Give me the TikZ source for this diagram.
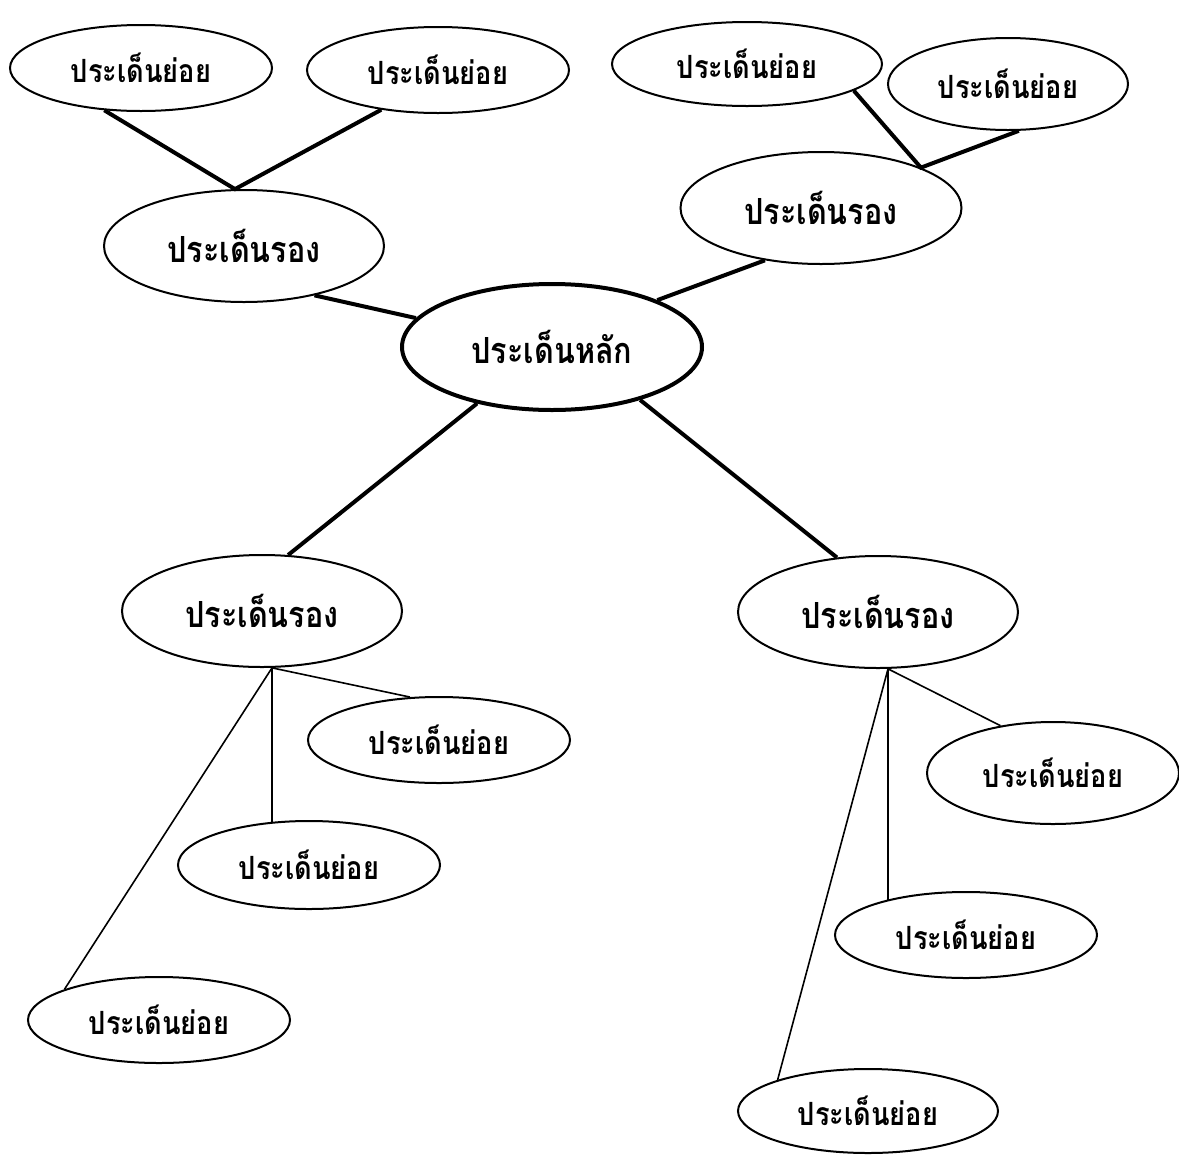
\documentclass[tikz,border=0pt]{standalone}
\usepackage{fontspec}
\newfontfamily\thaifont[Script=Thai,FakeStretch=0.85]{Loma}
\usetikzlibrary{shapes.geometric}

\tikzset{
  topic/.style 2 args={ellipse, draw, line width=1.5pt, inner sep=0pt,
    minimum width=#1*0.75pt, minimum height=#2*0.75pt},
  subtxt/.style={font=\thaifont\bfseries\fontsize{24}{28}\selectfont},
  sectxt/.style={font=\thaifont\bfseries\fontsize{27}{31}\selectfont},
  thickline/.style={line width=3pt},
  thinline/.style={line width=1.2pt}
}

\begin{document}
\begin{tikzpicture}[x=0.75pt,y=0.75pt,yscale=-1,xscale=1]
\useasboundingbox (0,0) rectangle (1179,1154);

%Shape: Ellipse (main)
\node (main) at (552,347) [topic={300}{126}, line width=3pt, sectxt] {ประเด็นหลัก};

%Shape: Ellipse (upper left)
\node (secA) at (244,246) [topic={280}{112}, sectxt] {ประเด็นรอง};
\node (subA) at (141,68) [topic={262}{86}, subtxt] {ประเด็นย่อย};
\node (subB) at (438,70) [topic={262}{86}, subtxt] {ประเด็นย่อย};

%Shape: Ellipse (upper right)
\node (secB) at (821,208) [topic={281}{112}, sectxt] {ประเด็นรอง};
\node (subC) at (747,64) [topic={270}{84}, subtxt] {ประเด็นย่อย};
\node (subD) at (1008,84) [topic={240}{92}, subtxt] {ประเด็นย่อย};

%Shape: Ellipse (lower left)
\node (secC) at (262,611) [topic={280}{112}, sectxt] {ประเด็นรอง};
\node (subE) at (439,740) [topic={262}{86}, subtxt] {ประเด็นย่อย};
\node (subF) at (309,865) [topic={262}{88}, subtxt] {ประเด็นย่อย};
\node (subG) at (159,1020) [topic={262}{86}, subtxt] {ประเด็นย่อย};

%Shape: Ellipse (lower right)
\node (secD) at (878,612) [topic={280}{112}, sectxt] {ประเด็นรอง};
\node (subH) at (1053,773) [topic={252}{102}, subtxt] {ประเด็นย่อย};
\node (subI) at (966,935) [topic={262}{86}, subtxt] {ประเด็นย่อย};
\node (subJ) at (868,1111) [topic={260}{84}, subtxt] {ประเด็นย่อย};

%Straight Lines
\draw [thickline] (subA.229) -- (secA.99) -- (subB.215);
\draw [thickline] (secA.325) -- (main.168);
\draw [thickline] (main.24) -- (secB.223);
\draw [thickline] (subC.346) -- (secB.22) -- (subD.283);
\draw [thickline] (main.217) -- (secC.65);
\draw [thickline] (main.329) -- (secD.127);

%Straight Lines (thin)
\draw [thinline] (secC.280) -- (subE.124);
\draw [thinline] (secC.280) -- (secC.280 |- subF.132);
\draw [thinline] (secC.280) -- (subG.162);
\draw [thinline] (secD.280) -- (subH.138);
\draw [thinline] (secD.280) -- (secD.280 |- subI.156);
\draw [thinline] (secD.280) -- (subJ.161);

\end{tikzpicture}
\end{document}
